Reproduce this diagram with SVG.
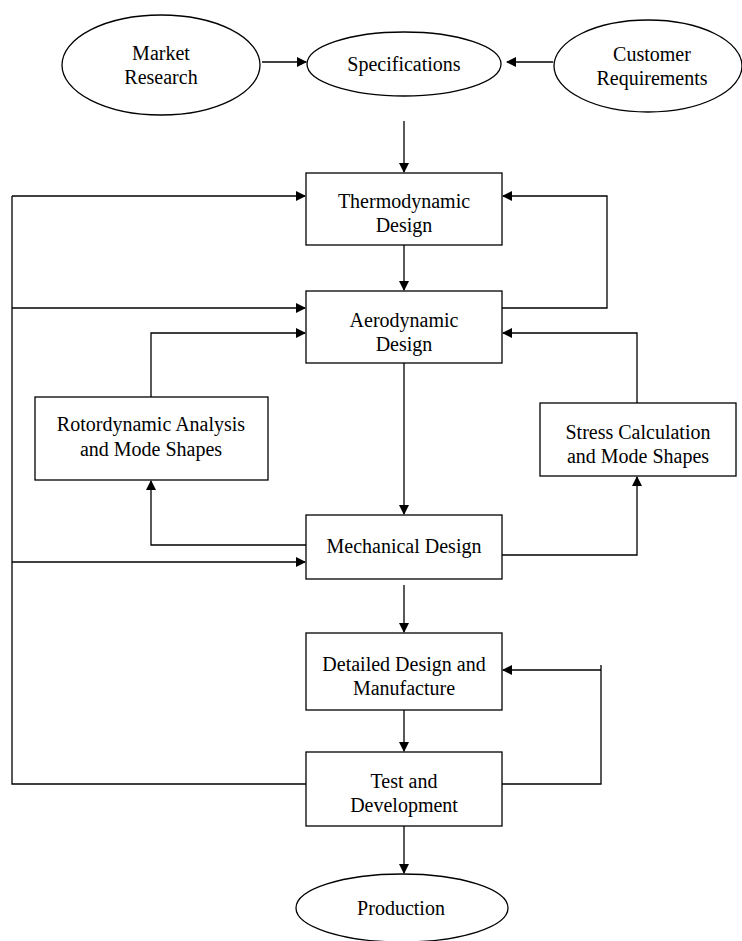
<svg xmlns="http://www.w3.org/2000/svg" width="742" height="941" viewBox="0 0 742 941">
<style>
.n{fill:#fff;stroke:#000;stroke-width:1.3}
.t{font-family:"Liberation Serif","Times New Roman",serif;font-size:20px;fill:#000;text-anchor:middle}
.c{fill:none;stroke:#000;stroke-width:1.3}
</style>
<defs>
<marker id="a" markerWidth="10" markerHeight="10" refX="9" refY="5" orient="auto" markerUnits="userSpaceOnUse">
<path d="M0,0 L10,5 L0,10 Z" fill="#000"/>
</marker>
</defs>
<rect width="742" height="941" fill="#fff"/>
<g id="connectors">
<path class="c" d="M262,62 H306" marker-end="url(#a)"/>
<path class="c" d="M553,62 H507" marker-end="url(#a)"/>
<path class="c" d="M404,121 V172" marker-end="url(#a)"/>
<path class="c" d="M404,245 V290" marker-end="url(#a)"/>
<path class="c" d="M502,308 H607 V196 H503" marker-end="url(#a)"/>
<path class="c" d="M12,196 H305" marker-end="url(#a)"/>
<path class="c" d="M12,308 H305" marker-end="url(#a)"/>
<path class="c" d="M12,562 H305" marker-end="url(#a)"/>
<path class="c" d="M306,784 H12 V196"/>
<path class="c" d="M151,397 V333 H305" marker-end="url(#a)"/>
<path class="c" d="M637,403 V333 H503" marker-end="url(#a)"/>
<path class="c" d="M404,363 V514" marker-end="url(#a)"/>
<path class="c" d="M306,545 H151 V481" marker-end="url(#a)"/>
<path class="c" d="M502,555 H637 V477" marker-end="url(#a)"/>
<path class="c" d="M404,585 V632" marker-end="url(#a)"/>
<path class="c" d="M404,706 V751" marker-end="url(#a)"/>
<path class="c" d="M502,784 H601 V665"/>
<path class="c" d="M601,670 H503" marker-end="url(#a)"/>
<path class="c" d="M404,826 V873" marker-end="url(#a)"/>
</g>
<g id="market">
<ellipse class="n" cx="161" cy="65" rx="99" ry="50"/>
<text class="t" x="161" y="60">Market</text>
<text class="t" x="161" y="84">Research</text>
</g>
<g id="specifications">
<ellipse class="n" cx="404" cy="64" rx="97" ry="32"/>
<text class="t" x="404" y="71">Specifications</text>
</g>
<g id="customer">
<ellipse class="n" cx="648" cy="66" rx="94" ry="46"/>
<text class="t" x="652" y="61">Customer</text>
<text class="t" x="652" y="85">Requirements</text>
</g>
<g id="thermo">
<rect class="n" x="306" y="173" width="196" height="72"/>
<text class="t" x="404" y="208">Thermodynamic</text>
<text class="t" x="404" y="232">Design</text>
</g>
<g id="aero">
<rect class="n" x="306" y="291" width="196" height="72"/>
<text class="t" x="404" y="327">Aerodynamic</text>
<text class="t" x="404" y="351">Design</text>
</g>
<g id="rotor">
<rect class="n" x="35" y="397" width="233" height="83"/>
<text class="t" x="151" y="431">Rotordynamic Analysis</text>
<text class="t" x="151" y="456">and Mode Shapes</text>
</g>
<g id="stress">
<rect class="n" x="540" y="403" width="196" height="73"/>
<text class="t" x="638" y="439">Stress Calculation</text>
<text class="t" x="638" y="463">and Mode Shapes</text>
</g>
<g id="mechanical">
<rect class="n" x="306" y="515" width="196" height="64"/>
<text class="t" x="404" y="553">Mechanical Design</text>
</g>
<g id="detailed">
<rect class="n" x="306" y="633" width="196" height="77"/>
<text class="t" x="404" y="671">Detailed Design and</text>
<text class="t" x="404" y="695">Manufacture</text>
</g>
<g id="test">
<rect class="n" x="306" y="752" width="196" height="74"/>
<text class="t" x="404" y="788">Test and</text>
<text class="t" x="404" y="812">Development</text>
</g>
<g id="production">
<ellipse class="n" cx="402" cy="908" rx="106" ry="34"/>
<text class="t" x="401" y="915">Production</text>
</g>
</svg>
